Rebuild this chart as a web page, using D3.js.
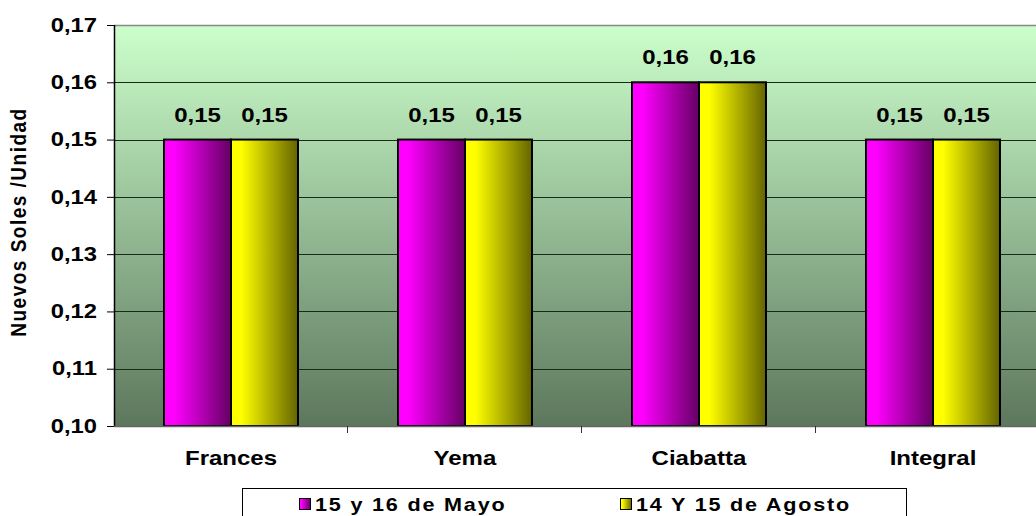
<!DOCTYPE html>
<html><head><meta charset="utf-8">
<script src="https://cdn.jsdelivr.net/npm/d3@7"></script>
<style>body{margin:0;background:#fff}svg{display:block}
text{font-family:"Liberation Sans",Arial,sans-serif;font-weight:bold;fill:#000}
.sc{transform-box:fill-box;transform:scaleX(1.2);transform-origin:center}
.scr{transform-box:fill-box;transform:scaleX(1.22);transform-origin:right center}
.scl{transform-box:fill-box;transform:scaleX(1.2);transform-origin:left center}
</style>
</head><body><svg id="c" width="1036" height="516"></svg>
<script>
const categories = ["Frances", "Yema", "Ciabatta", "Integral"];
const seriesNames = ["15 y 16 de Mayo", "14 Y 15 de Agosto"];
const mayo = [0.15, 0.15, 0.16, 0.15];
const agosto = [0.15, 0.15, 0.16, 0.15];
const yTicks = [0.10, 0.11, 0.12, 0.13, 0.14, 0.15, 0.16, 0.17];
const yTitle = "Nuevos Soles /Unidad";

const svg = d3.select("#c");
const L = 114, T = 25, B = 426, bandW = 234, R = L + bandW * categories.length;
const x = d3.scaleBand().domain(categories).range([L, R]);
const xs = d3.scaleBand().domain([0, 1]).range([0, 134]);
const y = d3.scaleLinear().domain([0.10, 0.17]).range([B, T]);
const fmt = v => d3.format(".2f")(v).replace(".", ",");

const defs = svg.append("defs");
const bg = defs.append("linearGradient").attr("id", "bg").attr("x1", 0).attr("x2", 0).attr("y1", 0).attr("y2", 1);
bg.append("stop").attr("offset", 0).attr("stop-color", "#ccffcc");
bg.append("stop").attr("offset", 1).attr("stop-color", "#5d775d");
const cols = [["#ff00ff", "#640064"], ["#ffff00", "#646400"]];
cols.forEach((c, i) => {
  const g = defs.append("linearGradient").attr("id", "g" + i).attr("x1", 0).attr("x2", 1).attr("y1", 0).attr("y2", 0);
  g.append("stop").attr("offset", 0).attr("stop-color", c[0]);
  g.append("stop").attr("offset", 0.15).attr("stop-color", c[0]);
  g.append("stop").attr("offset", 1).attr("stop-color", c[1]);
});

svg.append("rect").attr("x", L).attr("y", T).attr("width", R - L).attr("height", B - T).attr("fill", "url(#bg)");
svg.append("line").attr("x1", L).attr("x2", R).attr("y1", T + 0.5).attr("y2", T + 0.5).attr("stroke", "#888").attr("stroke-width", 1.5);

// gridlines
svg.append("g").selectAll("line").data(yTicks.slice(1, -1)).join("line")
  .attr("x1", L).attr("x2", R).attr("y1", d => Math.round(y(d)) + 0.5).attr("y2", d => Math.round(y(d)) + 0.5)
  .attr("stroke", "#1a2a1a").attr("stroke-width", 1.2);

// bars
const series = [mayo, agosto];
series.forEach((vals, si) => {
  svg.append("g").selectAll("rect").data(vals).join("rect")
    .attr("x", (d, i) => x(categories[i]) + 50 + xs(si))
    .attr("y", d => y(d))
    .attr("width", xs.bandwidth())
    .attr("height", d => B - y(d))
    .attr("fill", "url(#g" + si + ")")
    .attr("stroke", "#000").attr("stroke-width", 2);
  svg.append("g").selectAll("text").data(vals).join("text")
    .attr("class", "sc")
    .attr("x", (d, i) => x(categories[i]) + 50 + xs(si) + xs.bandwidth() / 2)
    .attr("y", d => y(d) - 18)
    .attr("text-anchor", "middle").style("font-size", "20px")
    .text(d => fmt(d));
});

// y axis
const ya = svg.append("g").attr("transform", `translate(${L},0)`)
  .call(d3.axisLeft(y).tickValues(yTicks).tickSize(7).tickPadding(10).tickFormat(fmt));
ya.select(".domain").attr("stroke", "#000").attr("stroke-width", 1.5).attr("d", `M0.5,${T}V${B}`);
ya.selectAll(".tick line").attr("stroke", "#000");
ya.selectAll("text").attr("class", "scr").style("font-size", "19.5px")
  .style("font-family", '"Liberation Sans",Arial,sans-serif').style("font-weight", "bold").attr("fill", "#000");

// x axis
const xa = svg.append("g").attr("transform", `translate(0,${B})`)
  .call(d3.axisBottom(x).tickSize(0).tickPadding(25));
xa.select(".domain").attr("stroke", "#666").attr("stroke-width", 1.5).attr("d", `M${L},0.5H${R}`);
xa.selectAll("text").attr("class", "sc").style("font-size", "20px")
  .style("font-family", '"Liberation Sans",Arial,sans-serif').style("font-weight", "bold").attr("fill", "#000");
svg.append("g").selectAll("line").data(categories.slice(1)).join("line")
  .attr("x1", d => x(d) - 0.5).attr("x2", d => x(d) - 0.5).attr("y1", B).attr("y2", B + 7).attr("stroke", "#333");

// y title
svg.append("text").attr("transform", `translate(26,${222}) scale(1.2,1) rotate(-90)`)
  .attr("text-anchor", "middle").style("font-size", "19px").style("letter-spacing", "1.5px").text(yTitle);

// legend
const lg = svg.append("g");
lg.append("rect").attr("x", 242.5).attr("y", 488.5).attr("width", 664).attr("height", 40).attr("fill", "#fff").attr("stroke", "#000");
const lx = [299, 620];
seriesNames.forEach((n, i) => {
  lg.append("rect").attr("x", lx[i] + 0.5).attr("y", 498.5).attr("width", 11).attr("height", 11)
    .attr("fill", "url(#g" + i + ")").attr("stroke", "#000").attr("stroke-width", 1);
  lg.append("text").attr("class", "scl").attr("x", lx[i] + 16).attr("y", 511)
    .style("font-size", "18px").style("letter-spacing", "1.5px").text(n);
});
</script></body></html>
